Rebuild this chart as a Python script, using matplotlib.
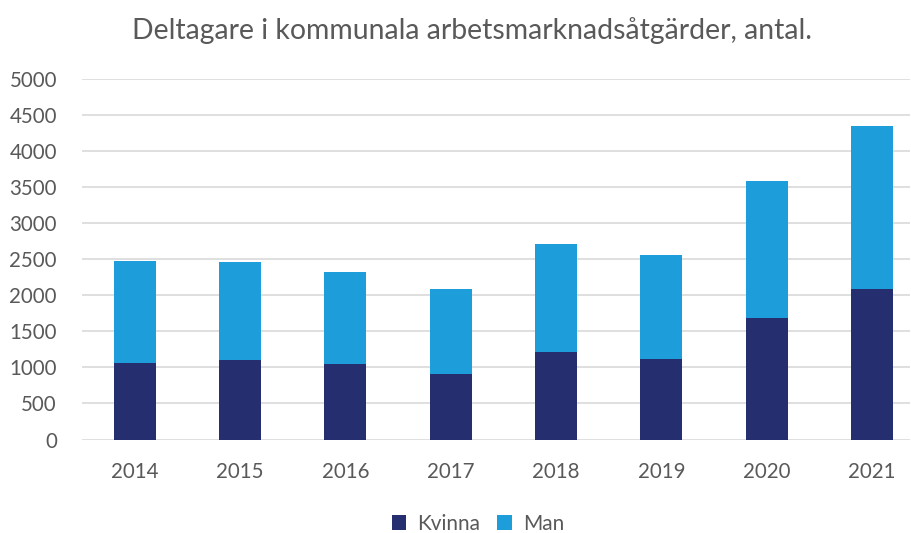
import matplotlib
matplotlib.use("Agg")
import matplotlib.pyplot as plt
import numpy as np

years = ["2014", "2015", "2016", "2017", "2018", "2019", "2020", "2021"]
kvinna = [1057, 1103, 1051, 908, 1213, 1121, 1690, 2087]
man = [1419, 1359, 1268, 1175, 1498, 1438, 1895, 2265]
yticks = [0, 500, 1000, 1500, 2000, 2500, 3000, 3500, 4000, 4500, 5000]

plt.rcParams['font.family'] = ['Lato', 'DejaVu Sans']
text_col = "#595959"

fig = plt.figure(figsize=(9.11, 5.33), dpi=100)
ax = fig.add_axes([82/911, 1 - 439.5/533, (910-82)/911, (439.5-79)/533])

x = np.arange(len(years))
ax.bar(x, kvinna, width=0.4, color="#252E6E", label="Kvinna", zorder=3)
ax.bar(x, man, width=0.4, bottom=kvinna, color="#1D9DD9", label="Man", zorder=3)

ax.set_xlim(-0.5, 7.36)
ax.set_ylim(0, 5000)
ax.set_yticks(yticks)
ax.set_xticks(x)
ax.set_xticklabels(years)
ax.grid(axis='y', color="#D9D9D9", linewidth=1.2, zorder=0)
for s in ax.spines.values():
    s.set_visible(False)
ax.tick_params(axis='both', length=0, labelsize=14.8, labelcolor=text_col)
ax.tick_params(axis='y', pad=18)
ax.tick_params(axis='x', pad=16)

fig.text(472/911, 1 - 31/533, "Deltagare i kommunala arbetsmarknadsåtgärder, antal.",
         ha='center', va='center', fontsize=20.4, color=text_col)

leg = fig.legend(loc='center', bbox_to_anchor=(478/911, 1 - 524/533), ncol=2,
                 frameon=False, fontsize=15, handlelength=0.7, handleheight=0.7,
                 handletextpad=0.55, columnspacing=0.8)
for t in leg.get_texts():
    t.set_color(text_col)

fig.savefig("out.png", dpi=100)
